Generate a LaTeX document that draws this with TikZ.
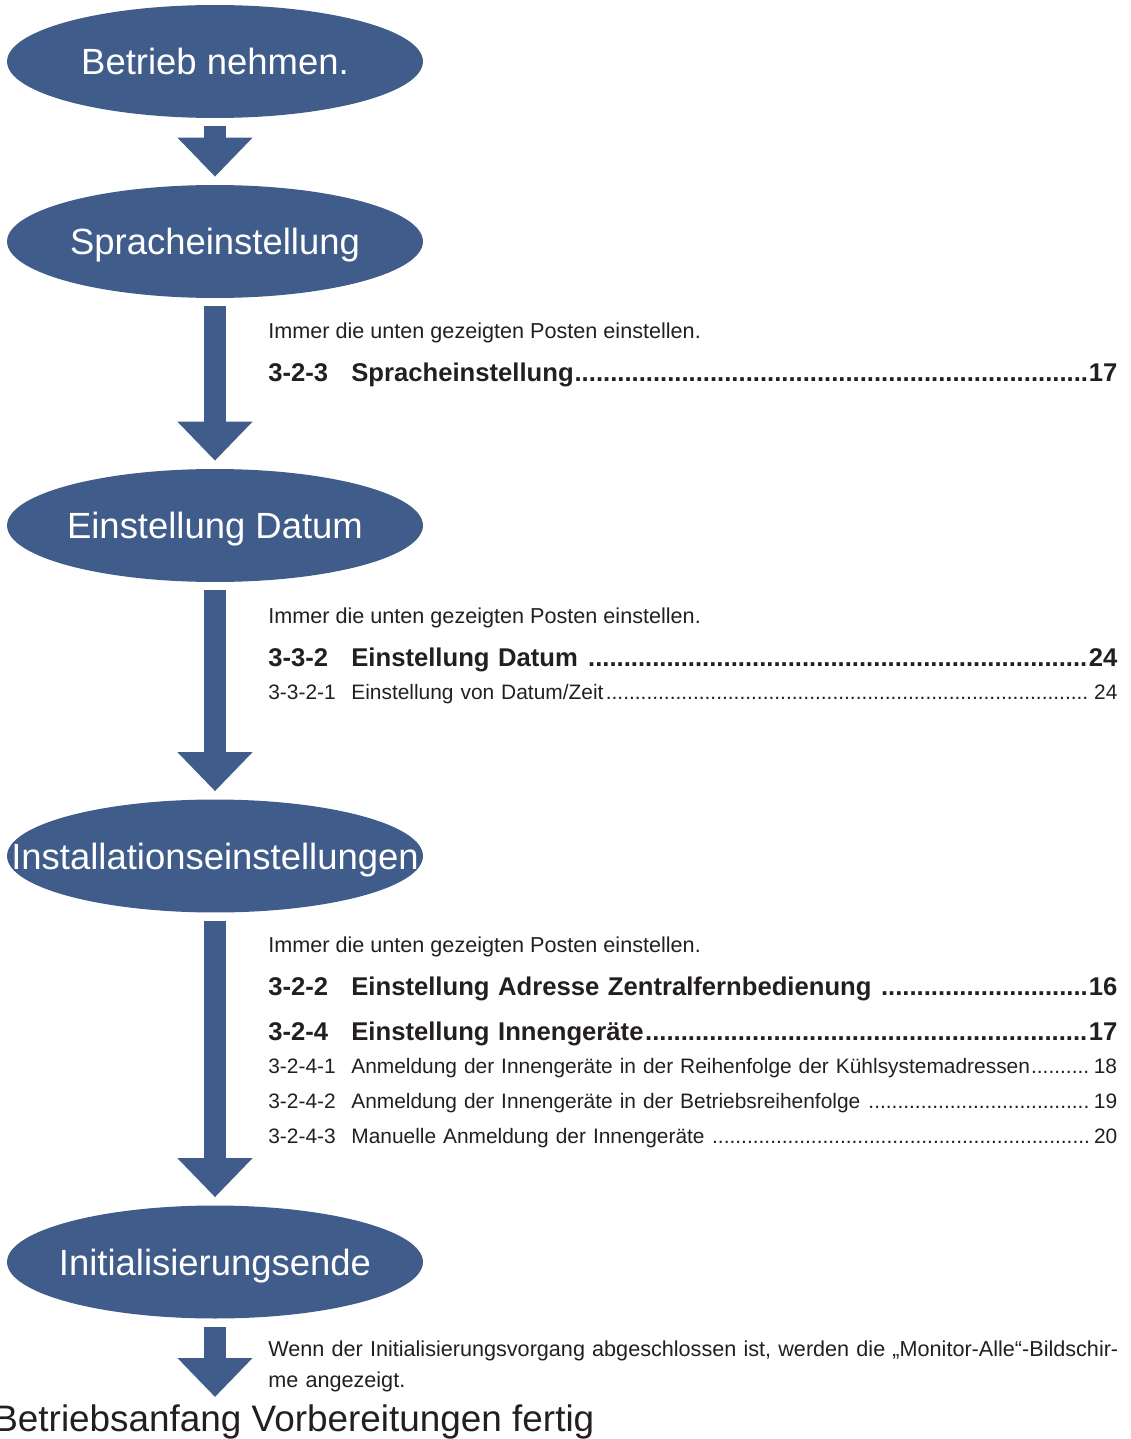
\documentclass[tikz,border=0pt]{standalone}
\usepackage{fontspec}
\setmainfont{Liberation Sans}
\usetikzlibrary{shapes.geometric,arrows.meta}
\definecolor{stageblue}{RGB}{64,92,138}
\definecolor{ink}{RGB}{35,31,32}
\newlength\pxu
\setlength\pxu{0.02cm}
\newcommand\tocdots{\cleaders\hbox{.}\hfill}
\newcommand\tocnum[1]{\makebox[83\pxu][l]{#1}}

\begin{document}
\begin{tikzpicture}[x=0.02cm,y=-0.02cm,
  stage/.style={ellipse,fill=stageblue,text=white,inner sep=0pt,minimum width=8.32cm,minimum height=2.26cm,font=\fontsize{20.75pt}{24pt}\selectfont,text height=14.9pt,text depth=0pt},
  flow/.style={stageblue,line width=0.434cm,-{Triangle[width=1.454cm,length=0.78cm]},shorten <=0.16cm},
  note/.style={anchor=base west,inner sep=0pt,text=ink,font=\fontsize{12.3pt}{18.1pt}\selectfont},
  tocmain/.style={anchor=base west,inner sep=0pt,text=ink,text width=16.98cm,align=left,font=\fontsize{14.6pt}{17pt}\selectfont\bfseries},
  tocsub/.style={anchor=base west,inner sep=0pt,text=ink,text width=16.98cm,align=left,font=\fontsize{11.9pt}{14pt}\selectfont}]
\useasboundingbox (0,0) rectangle (1131,1439);

% stages
\node[stage] (betrieb) at (215,61.5) {\makebox[0pt]{Betrieb nehmen.}};
\node[stage] (sprache) at (215,241.5) {\makebox[0pt]{Spracheinstellung}};
\node[stage] (datum) at (215,525.5) {\makebox[0pt]{Einstellung Datum}};
\node[stage] (install) at (215,856) {\makebox[0pt]{Installationseinstellungen}};
\node[stage] (initende) at (215,1262) {\makebox[0pt]{Initialisierungsende}};
\node[anchor=base west,inner sep=0pt,text=ink,font=\fontsize{21pt}{24pt}\selectfont] (fertig) at (-7,1431) {Betriebsanfang Vorbereitungen fertig};

% arrows
\foreach \from/\to in {betrieb/sprache,sprache/datum,datum/install,install/initende}
  \draw[flow,shorten >=0.16cm] (\from.south) -- (\to.north);
\coordinate (fertigtip) at (215,1397);
\draw[flow] (initende.south) -- (fertigtip);

% Spracheinstellung
\node[note] (hint1) at (268,338) {Immer die unten gezeigten Posten einstellen.};
\node[tocmain] (toc323) at (268,381) {\tocnum{3-2-3}Spracheinstellung\tocdots17};

% Datum
\node[note] (hint2) at (268,623) {Immer die unten gezeigten Posten einstellen.};
\node[tocmain] (toc332) at (268,666) {\tocnum{3-3-2}Einstellung Datum \tocdots24};
\node[tocsub] (toc3321) at (268,699) {\tocnum{3-3-2-1}Einstellung von Datum/Zeit\tocdots\,24};

% Installation
\node[note] (hint3) at (268,952) {Immer die unten gezeigten Posten einstellen.};
\node[tocmain] (toc322) at (268,995) {\tocnum{3-2-2}Einstellung Adresse Zentralfernbedienung \tocdots16};
\node[tocmain] (toc324) at (268,1040) {\tocnum{3-2-4}Einstellung Innengeräte\tocdots17};
\node[tocsub] (toc3241) at (268,1073) {\tocnum{3-2-4-1}Anmeldung der Innengeräte in der Reihenfolge der Kühlsystemadressen\tocdots\,18};
\node[tocsub] (toc3242) at (268,1108) {\tocnum{3-2-4-2}Anmeldung der Innengeräte in der Betriebsreihenfolge \tocdots\,19};
\node[tocsub] (toc3243) at (268,1143) {\tocnum{3-2-4-3}Manuelle Anmeldung der Innengeräte \tocdots\,20};

% Ende
\node[note,text width=18cm,align=left] (hint4) at (268,1356) {Wenn der Initialisierungsvorgang abgeschlossen ist, werden die „Monitor-Alle“-Bildschir-\\me angezeigt.};
\end{tikzpicture}
\end{document}
